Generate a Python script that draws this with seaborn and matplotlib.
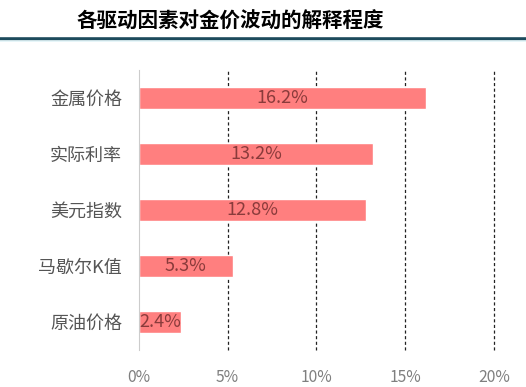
import matplotlib
matplotlib.use('Agg')
import matplotlib.pyplot as plt
import seaborn as sns
import pandas as pd
from matplotlib.lines import Line2D
from matplotlib.ticker import FuncFormatter

# Données
facteurs = ['金属价格', '实际利率', '美元指数', '马歇尔K值', '原油价格']
valeurs = [16.2, 13.2, 12.8, 5.3, 2.4]
ticks_x = [0, 5, 10, 15, 20]
titre = '各驱动因素对金价波动的解释程度'

df = pd.DataFrame({'facteur': facteurs, 'valeur': valeurs})

sns.set_style('white')
plt.rcParams['font.family'] = ['Noto Sans CJK SC', 'DejaVu Sans']

fig = plt.figure(figsize=(5.26, 3.87), dpi=100)
ax = fig.add_axes([0.264, 0.0956, 0.675, 0.7235])

sns.barplot(data=df, x='valeur', y='facteur', orient='h', color='#ff7f7f',
            width=0.4, saturation=1, ax=ax)

# étiquettes au centre des barres
for i, v in enumerate(valeurs):
    ax.text(v / 2, i, f'{v:.1f}%', ha='center', va='center',
            fontsize=13, color='#8a3b3b')

ax.set_xlim(0, 20)
ax.set_xticks(ticks_x)
ax.xaxis.set_major_formatter(FuncFormatter(lambda x, p: f'{x:.0f}%'))
ax.set_xlabel('')
ax.set_ylabel('')

for t in ticks_x[1:]:
    ax.axvline(t, color='#222222', linestyle=(0, (2.5, 2)), linewidth=0.9,
               zorder=0, clip_on=False)

for s in ['top', 'right', 'bottom']:
    ax.spines[s].set_visible(False)
ax.spines['left'].set_color('#cccccc')
ax.spines['left'].set_linewidth(0.8)

ax.tick_params(axis='x', length=0, labelsize=11.3, labelcolor='#7f7f7f', pad=14)
ax.tick_params(axis='y', length=0, labelsize=13, labelcolor='#555555', pad=12)

# titre et ligne décorative
fig.text(0.437, 0.945, titre, ha='center', va='center', fontsize=14.8,
         fontweight='bold', color='black')
fig.add_artist(Line2D([0, 1], [0.9005, 0.9005], color='#1c4a5c', linewidth=2.6))
fig.add_artist(Line2D([0, 1], [0.893, 0.893], color='#e3f5f8', linewidth=1.2))

fig.savefig('out.png', dpi=100)
